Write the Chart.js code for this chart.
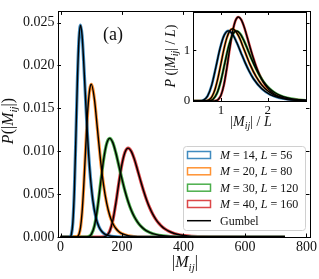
<!DOCTYPE html>
<html>
<head>
<meta charset="utf-8">
<script src="https://cdn.jsdelivr.net/npm/chart.js@4.4.1/dist/chart.umd.min.js"></script>
<style>
body { margin: 0; background: #fff; }
#wrap { position: relative; width: 319px; height: 279px; }
canvas { position: absolute; top: 0; left: 0; }
#inset { left: 160px; }
</style>
</head>
<body>
<div id="wrap">
<canvas id="main" width="319" height="279"></canvas>
<canvas id="inset" width="159" height="140"></canvas>
</div>
<script>
// system sizes
var sizeM = [14, 20, 30, 40];
var sizeL = [56, 80, 120, 160];

// |M_ij| values and P(|M_ij|)
var xM14 = [0, 10, 20, 25, 30, 35, 40, 45, 50, 55, 60, 65, 70, 75, 80, 85, 90, 95, 105, 115, 125, 135, 145, 155, 165, 185, 215, 260, 400, 730];
var pM14 = [0, 0, 0, 0, 0.00002, 0.00028, 0.0017, 0.00559, 0.0119, 0.01857, 0.02318, 0.02469, 0.02348, 0.02058, 0.01702, 0.01351, 0.0104, 0.00784, 0.00428, 0.00226, 0.001175, 0.000606, 0.000311, 0.00016, 0.000082, 0.0000215, 0, 0, 0, 0];

var xM20 = [0, 40, 50, 55, 60, 65, 70, 75, 80, 85, 90, 95, 100, 110, 120, 130, 140, 150, 160, 170, 180, 190, 200, 220, 240, 270, 320, 730];
var pM20 = [0, 0, 0.000007, 0.000063, 0.00033, 0.001146, 0.00289, 0.00568, 0.00916, 0.01267, 0.0155, 0.01724, 0.0178, 0.0161, 0.01257, 0.00897, 0.00605, 0.00394, 0.00251, 0.00158, 0.000988, 0.000614, 0.00038, 0.000145, 0.000055, 0.000013, 0, 0];

var xM30 = [0, 70, 80, 90, 100, 110, 120, 130, 140, 150, 160, 170, 180, 190, 200, 210, 220, 230, 240, 250, 260, 270, 280, 300, 320, 350, 400, 450, 730];
var pM30 = [0, 0, 0.000002, 0.0000375, 0.0003, 0.00126, 0.00333, 0.00621, 0.00902, 0.01089, 0.0115, 0.011, 0.00979, 0.00827, 0.00672, 0.00531, 0.00411, 0.00313, 0.00236, 0.00177, 0.00131, 0.000973, 0.000718, 0.000388, 0.000209, 0.000082, 0.000017, 0, 0];

var xM40 = [0, 120, 130, 140, 150, 160, 170, 180, 190, 200, 210, 220, 230, 240, 250, 260, 270, 280, 290, 300, 310, 320, 330, 340, 350, 370, 390, 420, 460, 520, 600, 730];
var pM40 = [0, 0, 0.0000012, 0.0000197, 0.000154, 0.000676, 0.00193, 0.00397, 0.00639, 0.00854, 0.00992, 0.01036, 0.00999, 0.00908, 0.00787, 0.0066, 0.00539, 0.00432, 0.00341, 0.00266, 0.00206, 0.00159, 0.00121, 0.000927, 0.000705, 0.000406, 0.000232, 0.0001, 0.0000326, 0.000006, 0, 0];

// tick labels
var xTicksMain = [0, 200, 400, 600, 800];
var yTicksMain = [0, 0.005, 0.010, 0.015, 0.020, 0.025];
var xTicksInset = [1, 2];
var yTicksInset = [0, 1];

var allX = [xM14, xM20, xM30, xM40];
var allP = [pM14, pM20, pM30, pM40];
var colors = ['rgba(31,119,180,0.85)', 'rgba(255,127,14,0.85)', 'rgba(44,160,44,0.85)', 'rgba(214,39,40,0.85)'];
var FONT = '"Liberation Serif", "DejaVu Serif", serif';
var INK = '#111';

function fontFor(kind, size) {
    if (kind === 'r') return size + 'px ' + FONT;
    if (kind === 'i') return 'italic ' + size + 'px ' + FONT;
    return 'italic ' + Math.round(size * 0.7) + 'px ' + FONT;
}

// little math-ish text: parts = [[text, 'r'|'i'|'s'], ...]
function drawMath(ctx, parts, x, y, size, align) {
    var w = 0;
    parts.forEach(function (p) {
        ctx.font = fontFor(p[1], size);
        w += ctx.measureText(p[0]).width;
    });
    var cx = align === 'left' ? x : x - w / 2;
    ctx.textAlign = 'left';
    ctx.textBaseline = 'alphabetic';
    ctx.fillStyle = INK;
    parts.forEach(function (p) {
        ctx.font = fontFor(p[1], size);
        ctx.fillText(p[0], cx, p[1] === 's' ? y + size * 0.22 : y);
        cx += ctx.measureText(p[0]).width;
    });
}

var frameTicks = {
    id: 'frameTicks',
    afterDatasetsDraw: function (chart, args, opts) {
        var ctx = chart.ctx, a = chart.chartArea, sx = chart.scales.x, sy = chart.scales.y;
        ctx.save();
        ctx.strokeStyle = '#000';
        ctx.lineWidth = 1;
        ctx.strokeRect(Math.round(a.left) + 0.5, Math.round(a.top) + 0.5, Math.round(a.right - a.left), Math.round(a.bottom - a.top));
        ctx.beginPath();
        opts.xt.forEach(function (v) {
            var px = Math.round(sx.getPixelForValue(v)) + 0.5;
            ctx.moveTo(px, a.bottom); ctx.lineTo(px, a.bottom - opts.len);
            ctx.moveTo(px, a.top); ctx.lineTo(px, a.top + opts.len);
        });
        opts.yt.forEach(function (v) {
            var py = Math.round(sy.getPixelForValue(v)) + 0.5;
            ctx.moveTo(a.left, py); ctx.lineTo(a.left + opts.len, py);
            ctx.moveTo(a.right, py); ctx.lineTo(a.right - opts.len, py);
        });
        ctx.stroke();
        ctx.restore();
    }
};

function makeDatasets(scaleByL) {
    var sets = [];
    for (var i = 0; i < 4; i++) {
        var L = scaleByL ? sizeL[i] : 1;
        var pts = allX[i].map(function (x, k) {
            return { x: x / L, y: allP[i][k] * L };
        });
        sets.push({ data: pts, borderColor: colors[i], borderWidth: scaleByL ? 2.6 : 3.2, pointRadius: 0, cubicInterpolationMode: 'monotone', order: 1 });
        sets.push({ data: pts, borderColor: '#000', borderWidth: 1.4, pointRadius: 0, cubicInterpolationMode: 'monotone', order: 0 });
    }
    return sets;
}

function axisOpts(min, max, ticks, fmt, size, padding, fit) {
    return {
        type: 'linear', min: min, max: max,
        grid: { display: false, drawTicks: false },
        border: { display: false },
        afterBuildTicks: function (s) { s.ticks = ticks.map(function (v) { return { value: v }; }); },
        afterFit: fit,
        ticks: { autoSkip: false, maxRotation: 0, padding: padding, color: INK, font: { family: FONT, size: size }, callback: fmt }
    };
}

var mainText = {
    id: 'mainText',
    afterDraw: function (chart) {
        var ctx = chart.ctx;
        ctx.save();
        // axis titles
        drawMath(ctx, [['|', 'r'], ['M', 'i'], ['ij', 's'], ['|', 'r']], 185, 267, 16);
        ctx.save();
        ctx.translate(13, 121);
        ctx.rotate(-Math.PI / 2);
        drawMath(ctx, [['P', 'i'], ['(', 'r'], ['|', 'r'], ['M', 'i'], ['ij', 's'], ['|', 'r'], [')', 'r']], 0, 0, 16);
        ctx.restore();
        drawMath(ctx, [['(a)', 'r']], 113, 40, 18);

        // legend
        ctx.beginPath();
        ctx.roundRect(183.5, 146.5, 122, 84, 3);
        ctx.fillStyle = 'rgba(255,255,255,0.85)';
        ctx.fill();
        ctx.strokeStyle = '#d0d0d0';
        ctx.lineWidth = 1;
        ctx.stroke();
        var rows = [155, 171.3, 187.7, 204, 220.7];
        for (var i = 0; i < 4; i++) {
            ctx.strokeStyle = colors[i];
            ctx.lineWidth = 1.5;
            ctx.strokeRect(187.5, rows[i] - 3.5, 23, 7);
            drawMath(ctx, [['M', 'i'], [' = ' + sizeM[i] + ', ', 'r'], ['L', 'i'], [' = ' + sizeL[i], 'r']], 220, rows[i] + 4, 12, 'left');
        }
        ctx.strokeStyle = '#000';
        ctx.lineWidth = 1.5;
        ctx.beginPath();
        ctx.moveTo(187, rows[4]); ctx.lineTo(211, rows[4]);
        ctx.stroke();
        drawMath(ctx, [['Gumbel', 'r']], 220, rows[4] + 4, 12, 'left');
        ctx.restore();
    }
};

var insetText = {
    id: 'insetText',
    afterDraw: function (chart) {
        var ctx = chart.ctx;
        ctx.save();
        drawMath(ctx, [['|', 'r'], ['M', 'i'], ['ij', 's'], ['|', 'r'], [' / ', 'r'], ['L', 'i']], 91, 126, 14);
        ctx.translate(15, 56);
        ctx.rotate(-Math.PI / 2);
        drawMath(ctx, [['P', 'i'], [' (', 'r'], ['|', 'r'], ['M', 'i'], ['ij', 's'], ['|', 'r'], [' / ', 'r'], ['L', 'i'], [')', 'r']], 0, 0, 14);
        ctx.restore();
    }
};

new Chart(document.getElementById('main'), {
    type: 'line',
    data: { datasets: makeDatasets(false) },
    options: {
        responsive: false, animation: false, devicePixelRatio: 1,
        layout: { padding: { top: 5, right: 7, left: 0, bottom: 0 } },
        plugins: { legend: { display: false }, tooltip: { enabled: false }, frameTicks: { xt: xTicksMain, yt: yTicksMain, len: 3.5 } },
        scales: {
            x: axisOpts(-10, 810, xTicksMain, function (v) { return String(v); }, 14, 2, function (s) { s.height = 42; }),
            y: axisOpts(0, 0.0263, yTicksMain, function (v) { return v.toFixed(3); }, 14, 3, function (s) { s.width = 57.5; })
        }
    },
    plugins: [frameTicks, mainText]
});

new Chart(document.getElementById('inset'), {
    type: 'line',
    data: { datasets: makeDatasets(true) },
    options: {
        responsive: false, animation: false, devicePixelRatio: 1,
        layout: { padding: { top: 12, right: 13, left: 0, bottom: 0 } },
        plugins: { legend: { display: false }, tooltip: { enabled: false }, frameTicks: { xt: xTicksInset, yt: yTicksInset, len: 3 } },
        scales: {
            x: axisOpts(0.41, 2.82, xTicksInset, function (v) { return String(v); }, 13, 2, function (s) { s.height = 39; }),
            y: axisOpts(0, 1.755, yTicksInset, function (v) { return String(v); }, 13, 3, function (s) { s.width = 33.3; })
        }
    },
    plugins: [frameTicks, insetText]
});
</script>
</body>
</html>
